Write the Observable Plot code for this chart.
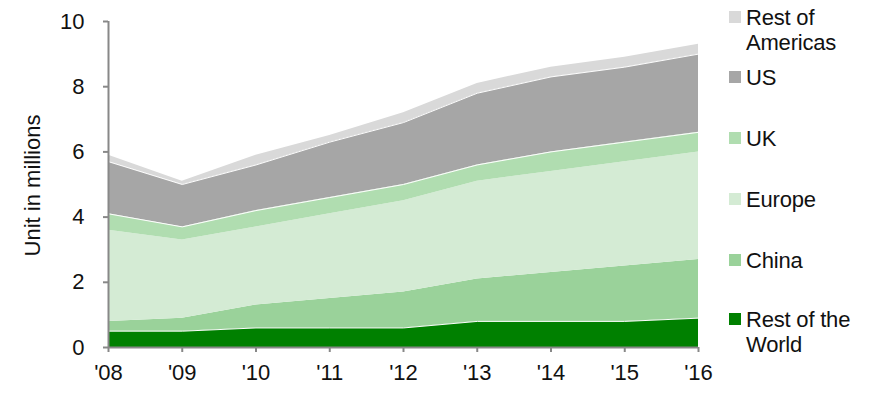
<!DOCTYPE html>
<html>
<head>
<meta charset="utf-8">
<script src="https://cdn.jsdelivr.net/npm/d3@7"></script>
<script src="https://cdn.jsdelivr.net/npm/@observablehq/plot@0.6"></script>
<style>
  html, body { margin: 0; padding: 0; background: #fff; }
  #chart { position: relative; width: 871px; height: 396px; font-family: "Liberation Sans", Arial, sans-serif; }
  #legend { position: absolute; left: 729px; top: 0; width: 142px; }
  .item { position: absolute; left: 0; display: flex; align-items: flex-start; }
  .sw { width: 12px; height: 12px; margin-top: 6px; margin-right: 5px; flex: none; }
  .lbl { font-size: 22px; line-height: 25px; color: #111; letter-spacing: -0.2px; }
</style>
</head>
<body>
<div id="chart"><div id="legend"></div></div>
<script>
// Unit sales by region, millions
const years = [2008, 2009, 2010, 2011, 2012, 2013, 2014, 2015, 2016];
const restOfWorld = [0.5, 0.5, 0.6, 0.6, 0.6, 0.8, 0.8, 0.8, 0.9];
const china = [0.3, 0.4, 0.7, 0.9, 1.1, 1.3, 1.5, 1.7, 1.8];
const europe = [2.8, 2.4, 2.4, 2.6, 2.8, 3.0, 3.1, 3.2, 3.3];
const uk = [0.5, 0.4, 0.5, 0.5, 0.5, 0.5, 0.6, 0.6, 0.6];
const us = [1.6, 1.3, 1.4, 1.7, 1.9, 2.2, 2.3, 2.3, 2.4];
const restOfAmericas = [0.2, 0.1, 0.3, 0.2, 0.3, 0.3, 0.3, 0.3, 0.3];
const yTicks = [0, 2, 4, 6, 8, 10];

// bottom-to-top stacking order
const seriesNames = ["Rest of the World", "China", "Europe", "UK", "US", "Rest of Americas"];
const seriesValues = [restOfWorld, china, europe, uk, us, restOfAmericas];
const seriesColors = ["#008000", "#9ad29a", "#d4ebd4", "#b0ddb0", "#a6a6a6", "#d9d9d9"];
const legendLines = [["Rest of the", "World"], ["China"], ["Europe"], ["UK"], ["US"], ["Rest of", "Americas"]];

// stacked layers
const rows = [];
const base = years.map(() => 0);
seriesNames.forEach((name, s) => {
  years.forEach((yr, i) => {
    const y1 = base[i];
    const y2 = y1 + seriesValues[s][i];
    base[i] = y2;
    rows.push({series: name, year: yr, y1, y2});
  });
});
const divider = rows.filter(d => d.series === "Rest of the World" || d.series === "UK" || d.series === "US");

const plot = Plot.plot({
  width: 871,
  height: 396,
  marginLeft: 108,
  marginRight: 173,
  marginTop: 21,
  marginBottom: 49,
  style: {fontFamily: "Liberation Sans, Arial, sans-serif", fontSize: "22px", color: "#111", background: "#fff"},
  x: {domain: [2008, 2016], axis: null},
  y: {domain: [0, 10], axis: null},
  color: {domain: seriesNames, range: seriesColors},
  marks: [
    Plot.areaY(rows, {x: "year", y1: "y1", y2: "y2", z: "series", fill: "series"}),
    Plot.lineY(divider, {x: "year", y: "y2", z: "series", stroke: "#fff", strokeWidth: 1}),
    Plot.axisY({ticks: yTicks, label: null, tickSize: 5, tickPadding: 19, stroke: "#888", strokeWidth: 2, tickFormat: d => d, fontSize: 22, fill: "#111"}),
    Plot.axisX({ticks: years, label: null, tickSize: 5, tickPadding: 12, stroke: "#888", strokeWidth: 2, tickFormat: d => "'" + String(d).slice(2), fontSize: 22, fill: "#111"}),
    Plot.ruleY([0], {stroke: "#888", strokeWidth: 2}),
    Plot.ruleX([2008], {stroke: "#888", strokeWidth: 2}),
    Plot.text(["Unit in millions"], {frameAnchor: "left", textAnchor: "middle", dx: -76, dy: 1, rotate: -90, fontSize: 22, fill: "#111"})
  ]
});
document.getElementById("chart").prepend(plot);

// legend, top entry first
const legend = document.getElementById("legend");
const tops = [307, 248, 187, 126, 65, 5];
seriesNames.forEach((name, i) => {
  const item = document.createElement("div");
  item.className = "item";
  item.style.top = tops[i] + "px";
  item.innerHTML = `<div class="sw" style="background:${seriesColors[i]}"></div><div class="lbl">${legendLines[i].join("<br>")}</div>`;
  legend.appendChild(item);
});
</script>
</body>
</html>
